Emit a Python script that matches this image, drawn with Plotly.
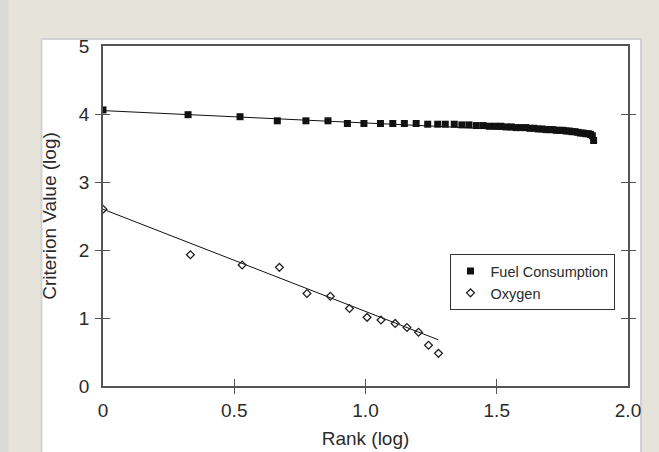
import plotly.graph_objects as go

# ---- data ----
fuel_x = [0, 0.324, 0.522, 0.664, 0.773, 0.857, 0.931, 0.994, 1.057, 1.104,
          1.148, 1.193, 1.237, 1.275, 1.304, 1.338, 1.367, 1.394, 1.422, 1.448,
          1.472, 1.494, 1.516, 1.536, 1.556, 1.574, 1.592, 1.610, 1.626, 1.642,
          1.658, 1.673, 1.687, 1.701, 1.714, 1.727, 1.740, 1.752, 1.764, 1.776,
          1.787, 1.798, 1.809, 1.819, 1.829, 1.839, 1.849, 1.857, 1.864, 1.869]
fuel_y = [4.06, 3.99, 3.96, 3.90, 3.90, 3.90, 3.86, 3.86, 3.86, 3.86,
          3.86, 3.86, 3.85, 3.85, 3.85, 3.85, 3.84, 3.84, 3.83, 3.83,
          3.82, 3.82, 3.82, 3.81, 3.81, 3.80, 3.80, 3.80, 3.79, 3.79,
          3.78, 3.78, 3.77, 3.77, 3.77, 3.76, 3.76, 3.76, 3.75, 3.75,
          3.74, 3.74, 3.73, 3.72, 3.72, 3.71, 3.71, 3.70, 3.68, 3.61]
fuel_trend_x = [0, 1.87]
fuel_trend_y = [4.05, 3.71]

oxy_x = [0, 0.333, 0.530, 0.672, 0.777, 0.866, 0.939, 1.006, 1.059, 1.113,
         1.158, 1.202, 1.240, 1.278]
oxy_y = [2.60, 1.93, 1.78, 1.745, 1.36, 1.32, 1.14, 1.01, 0.97, 0.92,
         0.86, 0.79, 0.60, 0.48]
oxy_trend_x = [0, 1.277]
oxy_trend_y = [2.60, 0.68]

x_tick_vals = [0, 0.5, 1.0, 1.5, 2.0]
x_tick_text = ["0", "0.5", "1.0", "1.5", "2.0"]
x_mark_vals = [0.5, 1.0, 1.5]
y_tick_vals = [0, 1, 2, 3, 4, 5]
y_tick_text = ["0", "1", "2", "3", "4", "5"]
y_mark_vals = [1, 2, 3, 4]

X_RANGE = [0, 2.0]
Y_RANGE = [0, 5]

FONT = "Liberation Sans, Arial, Helvetica, sans-serif"
TXT = "#2b2b2b"
AXC = "#555555"

fig = go.Figure()

fig.add_trace(go.Scatter(x=fuel_trend_x, y=fuel_trend_y, mode="lines",
                         line=dict(color="#111111", width=1), showlegend=False,
                         hoverinfo="skip"))
fig.add_trace(go.Scatter(x=oxy_trend_x, y=oxy_trend_y, mode="lines",
                         line=dict(color="#111111", width=1), showlegend=False,
                         hoverinfo="skip"))
fig.add_trace(go.Scatter(x=fuel_x, y=fuel_y, mode="markers", name="Fuel Consumption",
                         marker=dict(symbol="square", size=7, color="#111111",
                                     line=dict(width=0))))
fig.add_trace(go.Scatter(x=oxy_x, y=oxy_y, mode="markers", name="Oxygen",
                         marker=dict(symbol="diamond-open", size=6, color="#222222",
                                     line=dict(width=1.3, color="#222222"))))

# helper (empty) traces so the overlay tick axes render
fig.add_trace(go.Scatter(x=[None], y=[None], xaxis="x2", yaxis="y2", showlegend=False))
fig.add_trace(go.Scatter(x=[None], y=[None], xaxis="x3", yaxis="y3", showlegend=False))

tickfont = dict(family=FONT, size=19, color=TXT)

fig.update_layout(
    width=659, height=452,
    margin=dict(l=103, r=31, t=46, b=66, autoexpand=False),
    paper_bgcolor="#E6E4DA",
    plot_bgcolor="white",
    font=dict(family=FONT, color=TXT),
    xaxis=dict(range=X_RANGE, tickvals=x_tick_vals, ticktext=x_tick_text,
               ticks="", showgrid=False, zeroline=False, automargin=False,
               showline=True, linecolor=AXC, linewidth=1.5, mirror=True,
               tickfont=tickfont, ticklabelstandoff=6,
               title=dict(text="Rank (log)", font=dict(family=FONT, size=19, color=TXT),
                          standoff=12)),
    yaxis=dict(range=Y_RANGE, tickvals=y_tick_vals, ticktext=y_tick_text,
               ticks="", showgrid=False, zeroline=False, automargin=False,
               showline=True, linecolor=AXC, linewidth=1.5, mirror=True,
               tickfont=tickfont, ticklabelstandoff=8,
               title=dict(text="Criterion Value (log)", font=dict(family=FONT, size=19, color=TXT),
                          standoff=17)),
    xaxis2=dict(range=X_RANGE, overlaying="x", tickvals=x_mark_vals, showticklabels=False,
                ticks="outside", ticklen=7, tickwidth=1.3, tickcolor=AXC, automargin=False,
                showgrid=False, zeroline=False, showline=False),
    yaxis2=dict(range=Y_RANGE, overlaying="y", tickvals=y_mark_vals, showticklabels=False,
                ticks="outside", ticklen=7, tickwidth=1.3, tickcolor=AXC, mirror="ticks",
                automargin=False,
                showgrid=False, zeroline=False, showline=True, linecolor="rgba(0,0,0,0)"),
    xaxis3=dict(range=X_RANGE, overlaying="x", tickvals=x_mark_vals, showticklabels=False,
                ticks="inside", ticklen=7, tickwidth=1.3, tickcolor=AXC, automargin=False,
                showgrid=False, zeroline=False, showline=False),
    yaxis3=dict(range=Y_RANGE, overlaying="y", tickvals=y_mark_vals, showticklabels=False,
                ticks="inside", ticklen=7, tickwidth=1.3, tickcolor=AXC, mirror="ticks",
                automargin=False,
                showgrid=False, zeroline=False, showline=True, linecolor="rgba(0,0,0,0)"),
    legend=dict(x=0.66, y=0.388, xanchor="left", yanchor="top",
                bgcolor="white", bordercolor="#333333", borderwidth=1,
                font=dict(family=FONT, size=14.5, color=TXT),
                itemwidth=30),
    showlegend=True,
    shapes=[
        # white panel behind the chart
        dict(type="rect", xref="paper", yref="paper", layer="below",
             x0=-0.1172, x1=1.0248, y0=-0.25, y1=1.0206,
             fillcolor="white", line=dict(color="#D2D2D2", width=2)),
        # light outer strip on the left
        dict(type="rect", xref="paper", yref="paper", layer="below",
             x0=-0.30, x1=-0.180, y0=-0.25, y1=1.2,
             fillcolor="#DADADA", line=dict(width=0)),
    ],
)

fig.write_html("out.html", config={"displayModeBar": False},
               post_script="document.body.style.margin='0';document.body.style.overflow='hidden';")
